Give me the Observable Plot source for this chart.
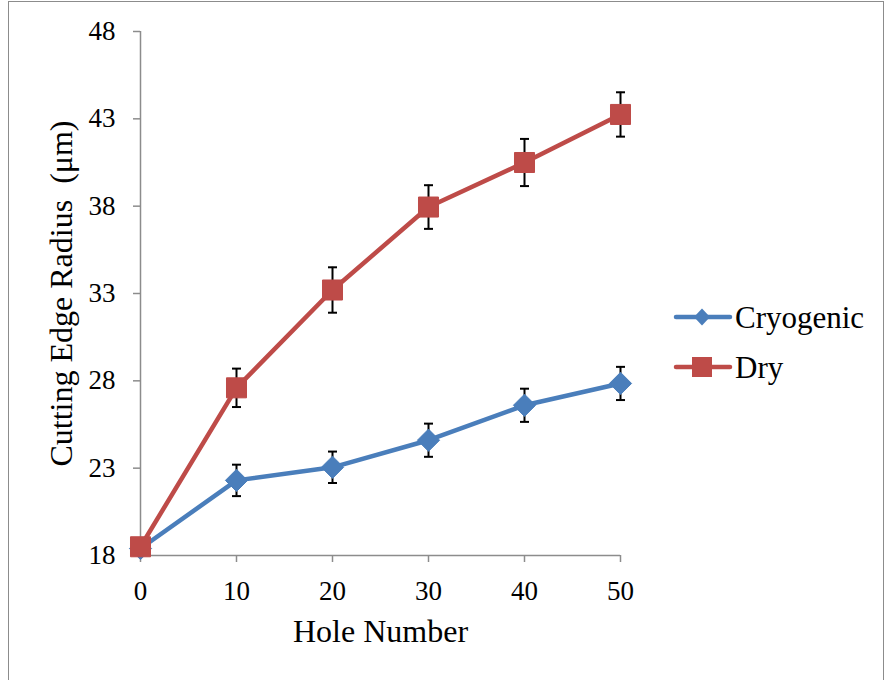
<!DOCTYPE html>
<html>
<head>
<meta charset="utf-8">
<script src="https://cdn.jsdelivr.net/npm/d3@7"></script>
<script src="https://cdn.jsdelivr.net/npm/@observablehq/plot@0.6"></script>
<style>
  html, body { margin: 0; padding: 0; background: #fff; }
  #wrap { position: relative; width: 886px; height: 680px; overflow: hidden; font-family: "Liberation Serif", serif; }
  #wrap svg text { font-family: "Liberation Serif", serif; }
  #frame { position: absolute; left: 8px; top: 1px; width: 876px; height: 690px; border: 1.5px solid #8c8c8c; box-sizing: border-box; pointer-events: none; }
  #legend { position: absolute; left: 670px; top: 292px; }
</style>
</head>
<body>
<div id="wrap">
  <div id="chart"></div>
  <svg id="legend" width="216" height="100"></svg>
  <div id="frame"></div>
</div>
<script>
const holes = [0, 10, 20, 30, 40, 50];
const cryogenic = [18.4, 22.3, 23.05, 24.6, 26.6, 27.85];
const cryogenicErr = [0, 0.9, 0.9, 0.95, 0.95, 0.95];
const dry = [18.5, 27.6, 33.2, 37.95, 40.5, 43.25];
const dryErr = [0, 1.1, 1.3, 1.25, 1.35, 1.27];
const seriesNames = ["Cryogenic", "Dry"];
const seriesColors = ["#4A7EBB", "#BE4B48"];
const yTicks = [18, 23, 28, 33, 38, 43, 48];
const xTicks = [0, 10, 20, 30, 40, 50];

const rows = [];
holes.forEach((h, i) => {
  rows.push({series: "Cryogenic", x: h, y: cryogenic[i], e: cryogenicErr[i]});
  rows.push({series: "Dry", x: h, y: dry[i], e: dryErr[i]});
});
const cryo = rows.filter(d => d.series === "Cryogenic");
const dr = rows.filter(d => d.series === "Dry");

const capSymbol = {
  draw(context, size) {
    const r = Math.sqrt(size / Math.PI);
    context.moveTo(-r, 0);
    context.lineTo(r, 0);
  }
};

function seriesMarks(data, color, symbol, r) {
  const withErr = data.filter(d => d.e > 0);
  return [
    Plot.line(data, {x: "x", y: "y", stroke: color, strokeWidth: 4.5}),
    Plot.ruleX(withErr, {x: "x", y1: d => d.y - d.e, y2: d => d.y + d.e, stroke: "#000", strokeWidth: 2}),
    Plot.dot(withErr, {x: "x", y: d => d.y + d.e, symbol: capSymbol, r: 4.5, stroke: "#000", strokeWidth: 2}),
    Plot.dot(withErr, {x: "x", y: d => d.y - d.e, symbol: capSymbol, r: 4.5, stroke: "#000", strokeWidth: 2}),
    Plot.dot(data, {x: "x", y: "y", symbol, r, fill: color, stroke: color, strokeWidth: 1})
  ];
}

const chart = Plot.plot({
  width: 886,
  height: 680,
  marginLeft: 140,
  marginRight: 266,
  marginTop: 31,
  marginBottom: 125,
  style: {fontFamily: "'Liberation Serif', serif", background: "transparent", overflow: "visible"},
  x: {domain: [0, 50]},
  y: {domain: [18, 48]},
  marks: [
    Plot.ruleY([18], {stroke: "#8c8c8c", strokeWidth: 1.5}),
    Plot.ruleX([0], {stroke: "#8c8c8c", strokeWidth: 1.5}),
    Plot.axisY({ticks: yTicks, tickSize: 7, tickPadding: 18, fontSize: 27, stroke: "#8c8c8c", strokeWidth: 1.5, color: "#000", label: null, tickFormat: d => String(d)}),
    Plot.axisX({ticks: xTicks, tickSize: 7, tickPadding: 18, fontSize: 27, stroke: "#8c8c8c", strokeWidth: 1.5, color: "#000", label: null, tickFormat: d => String(d)}),
    ...seriesMarks(cryo, seriesColors[0], "diamond2", 10),
    ...seriesMarks(dr, seriesColors[1], "square", 11.3),
    Plot.text(["Cutting Edge Radius  (μm)"], {frameAnchor: "left", rotate: -90, dx: -79, textAnchor: "middle", lineAnchor: "middle", fontSize: 32, fill: "#000"}),
    Plot.text(["Hole Number"], {frameAnchor: "bottom", dy: 76, lineAnchor: "middle", fontSize: 32, fill: "#000"})
  ]
});
document.getElementById("chart").appendChild(chart);

// legend
const legend = d3.select("#legend");
const symbolPaths = ["M0,-8.5 L8,0 L0,8.5 L-8,0 Z", "M-10,-10 H10 V10 H-10 Z"];
seriesNames.forEach((name, i) => {
  const cy = 25 + i * 50;
  legend.append("line").attr("x1", 6).attr("x2", 60).attr("y1", cy).attr("y2", cy)
    .attr("stroke", seriesColors[i]).attr("stroke-width", 4.5).attr("stroke-linecap", "round");
  legend.append("path").attr("d", symbolPaths[i]).attr("transform", `translate(32,${cy})`)
    .attr("fill", seriesColors[i]);
  legend.append("text").attr("x", 65).attr("y", cy).attr("dy", "0.35em")
    .attr("font-size", 31).attr("fill", "#000").text(name);
});
</script>
</body>
</html>
